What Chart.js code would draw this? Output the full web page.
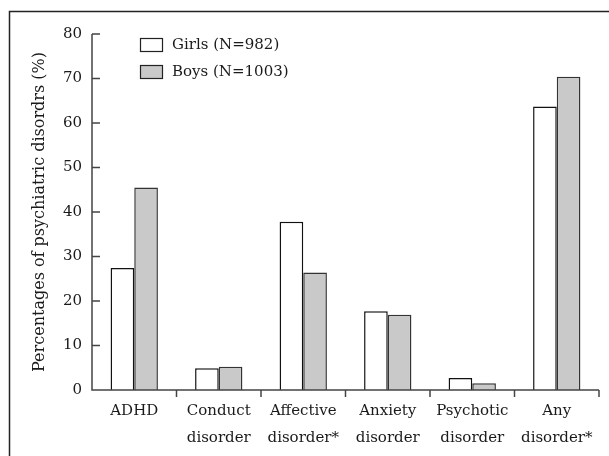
<!DOCTYPE html>
<html>
<head>
<meta charset="utf-8">
<script src="https://cdn.jsdelivr.net/npm/chart.js@4.4.0/dist/chart.umd.min.js"></script>
<style>
  html, body { margin: 0; padding: 0; background: #fff; }
  canvas { display: block; }
</style>
</head>
<body>
<canvas id="chart" width="609" height="456"></canvas>
<script>
// data
var categories = ['ADHD', ['Conduct', 'disorder'], ['Affective', 'disorder*'], ['Anxiety', 'disorder'], ['Psychotic', 'disorder'], ['Any', 'disorder*']];
var girls = [27.4, 4.9, 37.8, 17.7, 2.7, 63.7];
var boys = [45.5, 5.2, 26.4, 16.9, 1.5, 70.4];
var seriesNames = ['Girls (N=982)', 'Boys (N=1003)'];
var yTitle = 'Percentages of psychiatric disordrs (%)';

var FONT = 'DejaVu Serif';
Chart.defaults.font.family = FONT;
Chart.defaults.color = '#1a1a1a';

// frame, axes, ticks and legend drawn by hand so they look like the figure
var decor = {
  id: 'decor',
  beforeDraw: function(chart) {
    var ctx = chart.ctx;
    ctx.save();
    ctx.strokeStyle = '#222';
    ctx.lineWidth = 1.5;
    ctx.beginPath();
    ctx.moveTo(9.5, 456);
    ctx.lineTo(9.5, 11.5);
    ctx.lineTo(609, 11.5);
    ctx.stroke();
    ctx.restore();
  },
  afterDatasetsDraw: function(chart) {
    var ctx = chart.ctx;
    var xs = chart.scales.x, ys = chart.scales.y;
    var left = chart.chartArea.left, right = chart.chartArea.right;
    var top = ys.getPixelForValue(80), bottom = ys.getPixelForValue(0);
    ctx.save();
    ctx.strokeStyle = '#444';
    ctx.lineWidth = 1.5;
    ctx.beginPath();
    ctx.moveTo(left, top);
    ctx.lineTo(left, bottom);
    ctx.lineTo(right, bottom);
    // y ticks, pointing inward
    ys.ticks.forEach(function(t) {
      var y = ys.getPixelForValue(t.value);
      ctx.moveTo(left, y);
      ctx.lineTo(left + 8, y);
    });
    // x ticks at category boundaries, pointing down
    var step = (right - left) / categories.length;
    for (var i = 1; i <= categories.length; i++) {
      var x = left + step * i;
      ctx.moveTo(x, bottom);
      ctx.lineTo(x, bottom + 7);
    }
    ctx.stroke();

    // legend
    ctx.font = '15px ' + FONT;
    ctx.textBaseline = 'middle';
    ctx.textAlign = 'left';
    chart.data.datasets.forEach(function(ds, k) {
      var y0 = 38 + k * 27;
      ctx.fillStyle = ds.backgroundColor;
      ctx.fillRect(140, y0, 23, 14);
      ctx.lineWidth = 1.2;
      ctx.strokeStyle = '#222';
      ctx.strokeRect(140.5, y0 + 0.5, 22, 13);
      ctx.fillStyle = '#1a1a1a';
      ctx.fillText(ds.label, 172, y0 + 7);
    });
    ctx.restore();
  }
};

new Chart(document.getElementById('chart'), {
  type: 'bar',
  data: {
    labels: categories,
    datasets: [
      { label: seriesNames[0], data: girls, backgroundColor: '#ffffff', borderColor: '#111', borderWidth: 1.5, borderSkipped: 'bottom' },
      { label: seriesNames[1], data: boys, backgroundColor: '#c9c9c9', borderColor: '#333', borderWidth: 1.5, borderSkipped: 'bottom' }
    ]
  },
  options: {
    responsive: false,
    animation: false,
    devicePixelRatio: 1,
    layout: { padding: { left: 18, top: 34, right: 10, bottom: 0 } },
    plugins: { legend: { display: false }, tooltip: { enabled: false } },
    datasets: { bar: { categoryPercentage: 0.56, barPercentage: 1.0 } },
    scales: {
      x: {
        grid: { display: false },
        border: { display: false },
        ticks: { font: { size: 15, lineHeight: 1.8 }, padding: 0, maxRotation: 0, autoSkip: false },
        afterFit: function(s) { s.height = 66; }
      },
      y: {
        min: 0, max: 80,
        grid: { display: false },
        border: { display: false },
        ticks: { stepSize: 10, font: { size: 15 }, padding: 2 },
        title: { display: true, text: yTitle, font: { size: 16 }, padding: { top: 12, bottom: 0 } },
        afterFit: function(s) { s.width = 74; }
      }
    }
  },
  plugins: [decor]
});
</script>
</body>
</html>
